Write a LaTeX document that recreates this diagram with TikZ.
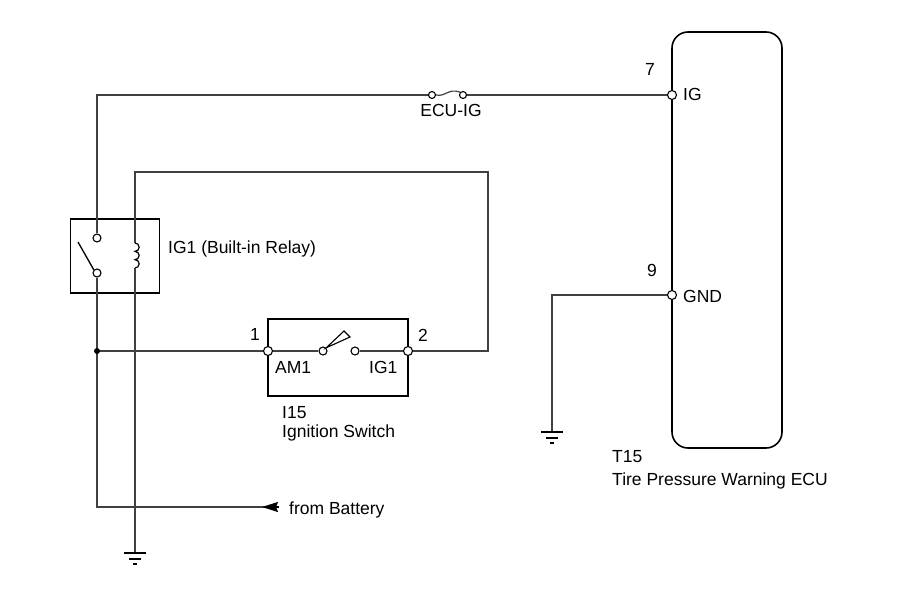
\documentclass[tikz,border=0pt]{standalone}
\usepackage{fontspec}
\setmainfont{Liberation Sans}
\usetikzlibrary{calc,arrows.meta,positioning}

\begin{document}
\begin{tikzpicture}[x=1pt,y=-1pt,
		wire/.style={line width=1.2pt,black!75},
		frame/.style={draw,line width=1.6pt,inner sep=0pt},
		term/.style={circle,draw,fill=white,line width=1.1pt,inner sep=0pt,minimum size=9pt},
		cont/.style={circle,draw,fill=white,line width=1.1pt,inner sep=0pt,minimum size=8pt},
		earth/.style={line width=1.3pt},
		txt/.style={font=\fontsize{17.5}{21}\selectfont,inner sep=0pt,anchor=base west}]
			\useasboundingbox (0,0) rectangle (907,610);
			% boxes
			\node[frame,minimum width=89pt,minimum height=74pt] (relay) at (115,256) {};
			\node[frame,minimum width=140pt,minimum height=77pt] (igsw) at (338,357.5) {};
			\node[frame,rounded corners=16pt,minimum width=110pt,minimum height=416pt] (ecu) at (727,240) {};
			% terminals and contacts
			\node[term] (ig) at (672,95) {};
			\node[term] (gnd) at (672,295) {};
			\node[term] (am) at (268,351) {};
			\node[term] (igo) at (408,351) {};
			\node[cont] (ra) at (97,238) {};
			\node[cont] (rb) at (97,273) {};
			\node[cont] (sa) at (323,351) {};
			\node[cont] (sb) at (355,351) {};
			\node[cont,minimum size=7pt] (fa) at (432,95) {};
			\node[cont,minimum size=7pt] (fb) at (463,95) {};
			\coordinate (tl) at (97,95);
			\coordinate (junc) at (97,351);
			\coordinate (bl) at (97,507);
			\coordinate (batt) at (279,507);
			\coordinate (ct) at (135,172);
			\coordinate (rt) at (488,172);
			\coordinate (rr) at (488,351);
			\coordinate (coilt) at (135,243);
			\coordinate (coilb) at (135,268);
			\coordinate (g1) at (135,553);
			\coordinate (gw) at (552,295);
			\coordinate (g2) at (552,432);
			% wiring
			\draw[wire] (ra) -- (tl) -- (fa);
			\draw[wire] (fa.east) .. controls (446,97) and (448,88) .. (fb.north west);
			\draw[wire] (fb) -- (ig);
			\draw[wire] (rb) -- (bl) -- (batt);
			\draw[line width=1.2pt,-{Stealth[length=16pt,width=10pt,inset=2pt]}] (batt) -- ++(-17,0);
			\draw[wire] (junc) -- (am) -- (sa);
			\draw[wire] (sb) -- (igo) -- (rr) -- (rt) -- (ct) -- (coilt);
			\draw[line width=1.2pt] (coilt) arc[start angle=-90,end angle=90,radius=4.17]
				arc[start angle=-90,end angle=90,radius=4.17]
				arc[start angle=-90,end angle=90,radius=4.17];
			\draw[wire] (coilb) -- (g1);
			\draw[wire] (gnd) -- (gw) -- (g2);
			\fill (junc) circle (3);
			% switch blades
			\draw[line width=1.3pt] (78,242) -- (rb.north west);
			\draw[line width=1.1pt,fill=white] (sa.north east) -- (344,331) -- (350,337) -- cycle;
			\foreach \p in {g1,g2}{
				\draw[earth] ([xshift=-11pt]\p) -- ([xshift=11pt]\p);
				\draw[earth] ([xshift=-6pt,yshift=-6pt]\p) -- ([xshift=6pt,yshift=-6pt]\p);
				\draw[earth] ([xshift=-2pt,yshift=-11pt]\p) -- ([xshift=2pt,yshift=-11pt]\p);
			}
			% labels
			\node[txt] (n7) at (645,75) {7};
			\node[txt] (nig) at (683,100) {IG};
			\node[txt,anchor=base] (fuse) at (451,116) {ECU-IG};
			\node[txt] (n9) at (647,276) {9};
			\node[txt] (ngnd) at (683,302) {GND};
			\node[txt] (t15) at (612,462) {T15};
			\node[txt] (ecuname) at (612,485) {Tire Pressure Warning ECU};
			\node[txt] (n1) at (250,340) {1};
			\node[txt] (n2) at (418,341) {2};
			\node[txt] (am1) at (275,373) {AM1};
			\node[txt] (ig1) at (369,373) {IG1};
			\node[txt] (i15) at (282,418) {I15};
			\node[txt] (swname) at (282,437.5) {Ignition Switch};
			\node[txt] (batlbl) at (289,514) {from Battery};
			\node[txt] (relaylbl) at (168,253) {IG1 (Built-in Relay)};
		\end{tikzpicture}
\end{document}
